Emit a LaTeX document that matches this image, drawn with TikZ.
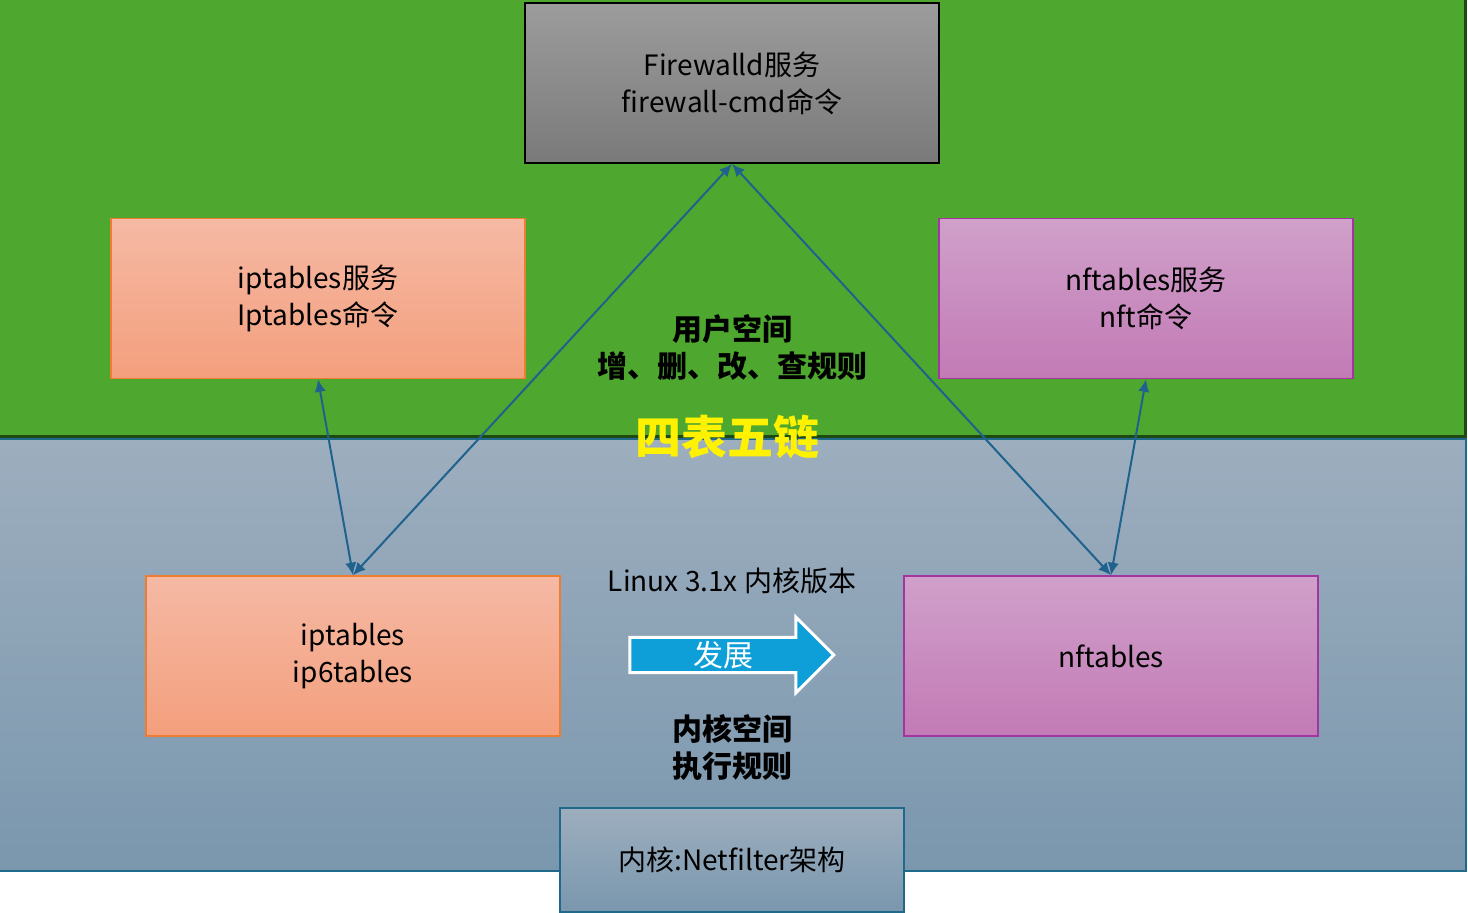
\documentclass[tikz,border=0pt]{standalone}
\usepackage{fontspec}
\setmainfont{Noto Sans CJK SC}
\usetikzlibrary{arrows.meta,positioning,shapes.arrows}
\definecolor{UserGreen}{HTML}{4EA72E}
\definecolor{DarkGreen}{HTML}{1E4A12}
\definecolor{KernTop}{HTML}{9DAEBE}
\definecolor{KernBot}{HTML}{7A97AE}
\definecolor{KernLine}{HTML}{1F6A8A}
\definecolor{ArrowBlue}{HTML}{1F628E}
\definecolor{SalmonTop}{HTML}{F5B9A4}
\definecolor{SalmonBot}{HTML}{F49F7D}
\definecolor{SalmonLine}{HTML}{ED7D31}
\definecolor{PinkTop}{HTML}{D0A0CA}
\definecolor{PinkBot}{HTML}{C27AB5}
\definecolor{PinkLine}{HTML}{A235A0}
\definecolor{GrayTop}{HTML}{9C9C9C}
\definecolor{GrayBot}{HTML}{7A7A7A}
\definecolor{DevBlue}{HTML}{0E9FD8}
\tikzset{
  basebox/.style={minimum width=207pt, minimum height=80pt, align=center, inner sep=0pt, font=\fontsize{14}{18.5}\selectfont},
  graybox/.style={basebox, draw=black, line width=1pt, top color=GrayTop, bottom color=GrayBot},
  salmonbox/.style={basebox, draw=SalmonLine, line width=0.8pt, top color=SalmonTop, bottom color=SalmonBot},
  pinkbox/.style={basebox, draw=PinkLine, line width=0.8pt, top color=PinkTop, bottom color=PinkBot},
  netbox/.style={basebox, minimum width=172pt, minimum height=52pt, draw=KernLine, line width=1pt, top color=KernTop, bottom color=KernBot},
  boldtxt/.style={align=center, font=\fontsize{15}{18.5}\selectfont\bfseries},
  arr/.style={{Latex[length=2.2mm,width=2mm]}-{Latex[length=2.2mm,width=2mm]}, line width=1pt, draw=ArrowBlue}
}
\begin{document}
\begin{tikzpicture}[x=0.5pt,y=-0.5pt]
\useasboundingbox (0,0) rectangle (1468,913);
% user space and kernel space bands
\fill[UserGreen] (0,0) rectangle (1466,438);
\draw[DarkGreen, line width=1.5pt] (0,437) -- (1465,437) -- (1465,0);
\shade[top color=KernTop, bottom color=KernBot] (0,439) rectangle (1466,872);
\draw[KernLine, line width=1pt] (0,439.5) -- (1465.5,439.5) -- (1465.5,871.5) -- (0,871.5);
% boxes
\node[graybox] (firewalld) at (732,83) {Firewalld服务\\firewall-cmd命令};
\node[salmonbox] (iptsvc) at (318,298.5) {iptables服务\\Iptables命令};
\node[pinkbox] (nftsvc) at (1146,298.5) {nftables服务\\nft命令};
\node[salmonbox] (ipt) at (353,656) {iptables\\ip6tables};
\node[pinkbox] (nft) at (1111,656) {nftables};
\node[netbox] (netfilter) at (732,860) {内核:Netfilter架构};
% labels
\node[boldtxt] (user) at (732,347.5) {用户空间\\增、删、改、查规则};
\node[text=yellow, font=\fontsize{23}{26}\selectfont\bfseries] (tables) at (727,437) {四表五链};
\node[font=\fontsize{14}{16}\selectfont] (version) at (732,581) {Linux 3.1x 内核版本};
\node[single arrow, fill=DevBlue, draw=white, line width=1.5pt, minimum width=38pt, minimum height=102pt,
  single arrow head extend=9pt, inner sep=0pt, text=white, font=\fontsize{15}{18}\selectfont] (dev) at (723,655) {发展};
\node[boldtxt] (kern) at (732,747.5) {内核空间\\执行规则};
% connectors
\draw[arr] (iptsvc.south) -- (ipt.north);
\draw[arr] (ipt.north) -- (firewalld.south);
\draw[arr] (firewalld.south) -- (nft.north);
\draw[arr] (nftsvc.south) -- (nft.north);
\end{tikzpicture}
\end{document}
